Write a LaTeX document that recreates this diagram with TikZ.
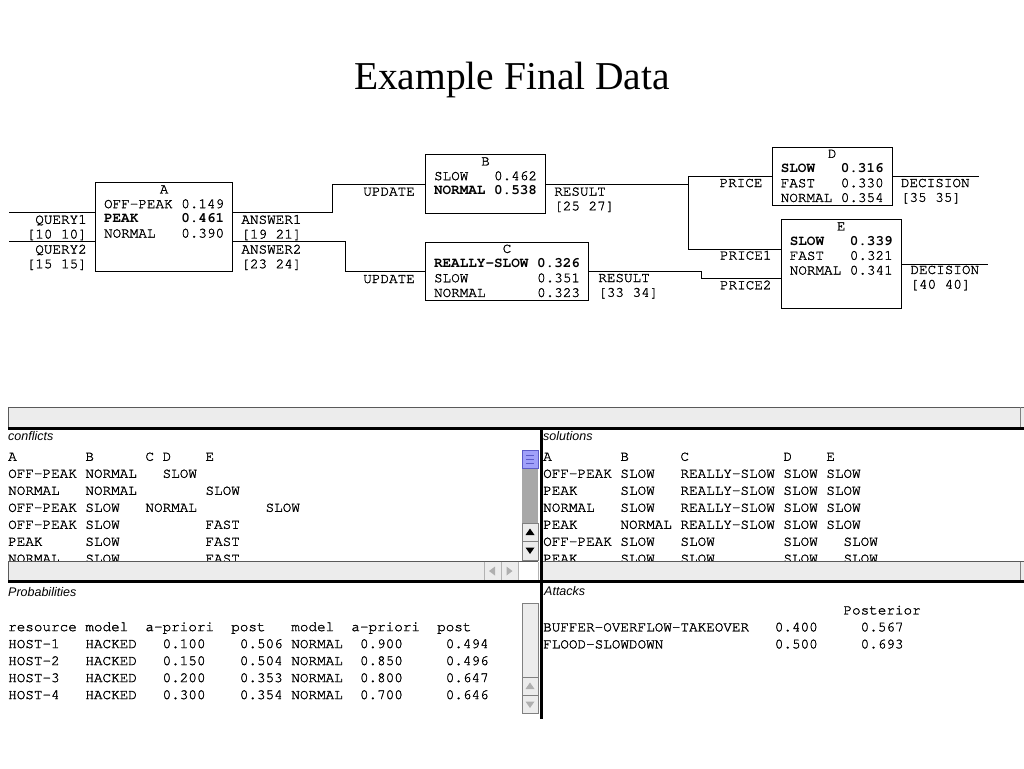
\documentclass[tikz,border=0pt]{standalone}
\usepackage{fontspec}
\setmainfont{Liberation Serif}
\setsansfont{Liberation Sans}
\newfontfamily\cursorfont[UprightFeatures={FakeBold=1.4}]{TeX Gyre Cursor}
\usepackage{tikz}
\usetikzlibrary{positioning,calc}

\newlength\chw
\setlength\chw{8.58pt}
\newcommand\skipch[1]{\hspace*{#1\chw}}
\newcommand\boxfont{\cursorfont\fontsize{14.3}{14.7}\selectfont}
\newcommand\listfont{\cursorfont\fontsize{14.3}{17}\selectfont}
\newcommand\tagfont{\sffamily\itshape\fontsize{12.5}{14}\selectfont}

\definecolor{panelgray}{RGB}{236,236,236}
\definecolor{framegray}{RGB}{90,90,90}
\definecolor{trackgray}{RGB}{168,168,168}
\definecolor{thumbblue}{RGB}{160,160,250}
\definecolor{thumbedge}{RGB}{90,90,200}
\definecolor{dimarrow}{RGB}{175,175,175}

\begin{document}
\begin{tikzpicture}[
  x=1pt, y=-1pt,
  unit/.style={draw, line width=1.1pt, anchor=north west, inner xsep=8.5pt, inner ysep=0pt, font=\boxfont, text height=10.6pt, text depth=48pt},
  tall/.style={unit, text depth=77.6pt},
  port/.style={font=\boxfont, inner sep=0pt},
  wire/.style={line width=0.9pt},
  listing/.style={font=\listfont, inner sep=0pt, anchor=base west},
  tag/.style={font=\tagfont, inner sep=0pt, anchor=base west},
  heavy/.style={line width=3pt},
  button/.style={fill=panelgray, draw=gray, line width=0.6pt}
]
\useasboundingbox (0,0) rectangle (1024,768);

\node[font=\fontsize{39.5}{45}\selectfont, anchor=base] (title) at (512,89) {Example Final Data};

% network nodes
\node[tall] (A) at (95,182.3) {\begin{tabular}[t]{@{}l@{\hspace{\chw}}r@{}}\multicolumn{2}{c}{A}\\ OFF-PEAK & 0.149\\ \textbf{PEAK} & \textbf{0.461}\\ NORMAL & 0.390\end{tabular}};
\node[unit] (B) at (425,154.3) {\begin{tabular}[t]{@{}l@{\hspace{\chw}}r@{}}\multicolumn{2}{c}{B}\\ SLOW & 0.462\\ \textbf{NORMAL} & \textbf{0.538}\end{tabular}};
\node[unit] (C) at (425,241.7) {\begin{tabular}[t]{@{}l@{\hspace{\chw}}r@{}}\multicolumn{2}{c}{C}\\ \textbf{REALLY-SLOW} & \textbf{0.326}\\ SLOW & 0.351\\ NORMAL & 0.323\end{tabular}};
\node[unit] (D) at (771.7,146.7) {\begin{tabular}[t]{@{}l@{\hspace{\chw}}r@{}}\multicolumn{2}{c}{D}\\ \textbf{SLOW} & \textbf{0.316}\\ FAST & 0.330\\ NORMAL & 0.354\end{tabular}};
\node[tall] (E) at (780.7,219.3) {\begin{tabular}[t]{@{}l@{\hspace{\chw}}r@{}}\multicolumn{2}{c}{E}\\ \textbf{SLOW} & \textbf{0.339}\\ FAST & 0.321\\ NORMAL & 0.341\end{tabular}};

% ports on the two-input boxes
\coordinate (A-in1) at ($(A.north west)!1/3!(A.south west)$);
\coordinate (A-in2) at ($(A.north west)!2/3!(A.south west)$);
\coordinate (A-out1) at ($(A.north east)!1/3!(A.south east)$);
\coordinate (A-out2) at ($(A.north east)!2/3!(A.south east)$);
\coordinate (E-in1) at ($(E.north west)!1/3!(E.south west)$);
\coordinate (E-in2) at ($(E.north west)!2/3!(E.south west)$);
\coordinate (feed) at (9,0);

% wires
\draw[wire] (feed |- A-in1) -- (A-in1);
\draw[wire] (feed |- A-in2) -- (A-in2);
\draw[wire] (A-out1) -- ++(99.5,0) |- (B.west);
\draw[wire] (A-out2) -- ++(112,0) |- (C.west);
\draw[wire] (B.east) -- ++(142.7,0) coordinate (fork);
\draw[wire] (D.west) -| (fork) |- (E-in1);
\draw[wire] (C.east) -- ++(112.3,0) |- (E-in2);
\draw[wire] (D.east) -- ++(86,0);
\draw[wire] (E.east) -- ++(86,0);

% port labels
\node[port, anchor=base east] (query1) at ($(A-in1)+(-8,11.7)$) {\begin{tabular}[t]{@{}r@{}}QUERY1\\{[10 10]}\end{tabular}};
\node[port, anchor=base east] (query2) at ($(A-in2)+(-8,11.7)$) {\begin{tabular}[t]{@{}r@{}}QUERY2\\{[15 15]}\end{tabular}};
\node[port, anchor=base west] (answer1) at ($(A-out1)+(8,11.7)$) {\begin{tabular}[t]{@{}l@{}}ANSWER1\\{[19 21]}\end{tabular}};
\node[port, anchor=base west] (answer2) at ($(A-out2)+(8,11.7)$) {\begin{tabular}[t]{@{}l@{}}ANSWER2\\{[23 24]}\end{tabular}};
\node[port, anchor=base east] (updateB) at ($(B.west)+(-10,11.5)$) {UPDATE};
\node[port, anchor=base east] (updateC) at ($(C.west)+(-10,11.5)$) {UPDATE};
\node[port, anchor=base west] (resultB) at ($(B.east)+(8,11.5)$) {\begin{tabular}[t]{@{}l@{}}RESULT\\{[25 27]}\end{tabular}};
\node[port, anchor=base west] (resultC) at ($(C.east)+(9,10.5)$) {\begin{tabular}[t]{@{}l@{}}RESULT\\{[33 34]}\end{tabular}};
\node[port, anchor=base east] (price) at ($(D.west)+(-9,10.5)$) {PRICE};
\node[port, anchor=base east] (price1) at ($(E-in1)+(-9,10.5)$) {PRICE1};
\node[port, anchor=base east] (price2) at ($(E-in2)+(-9,10.5)$) {PRICE2};
\node[port, anchor=base west] (decisionD) at ($(D.east)+(8,10.5)$) {\begin{tabular}[t]{@{}l@{}}DECISION\\{[35 35]}\end{tabular}};
\node[port, anchor=base west] (decisionE) at ($(E.east)+(8.5,10)$) {\begin{tabular}[t]{@{}l@{}}DECISION\\{[40 40]}\end{tabular}};

% top strip of the browser
\fill[panelgray] (8,407.3) rectangle (1024,428);
\draw[framegray, line width=0.8pt] (8,428) |- (1024,407.3);
\draw[gray, line width=0.8pt] (1020,407.3) -- (1020,428);

% panel texts
\node[tag] (conflicts-tag) at (8,440) {conflicts};
\node[tag] (solutions-tag) at (543,440) {solutions};
\node[tag] (prob-tag) at (8,596) {Probabilities};
\node[tag] (attacks-tag) at (544,595) {Attacks};

\node[listing] (conflicts) at (8,460.8) {\begin{tabular}[t]{@{}l@{}}
A\skipch{8}B\skipch{6}C D\skipch{4}E\\
OFF-PEAK NORMAL\skipch{3}SLOW\\
NORMAL\skipch{3}NORMAL\skipch{8}SLOW\\
OFF-PEAK SLOW\skipch{3}NORMAL\skipch{8}SLOW\\
OFF-PEAK SLOW\skipch{10}FAST\\
PEAK\skipch{5}SLOW\skipch{10}FAST\\
NORMAL\skipch{3}SLOW\skipch{10}FAST
\end{tabular}};
\node[listing] (solutions) at (543,460.8) {\begin{tabular}[t]{@{}l@{}}
A\skipch{8}B\skipch{6}C\skipch{11}D\skipch{4}E\\
OFF-PEAK SLOW\skipch{3}REALLY-SLOW SLOW SLOW\\
PEAK\skipch{5}SLOW\skipch{3}REALLY-SLOW SLOW SLOW\\
NORMAL\skipch{3}SLOW\skipch{3}REALLY-SLOW SLOW SLOW\\
PEAK\skipch{5}NORMAL REALLY-SLOW SLOW SLOW\\
OFF-PEAK SLOW\skipch{3}SLOW\skipch{8}SLOW\skipch{3}SLOW\\
PEAK\skipch{5}SLOW\skipch{3}SLOW\skipch{8}SLOW\skipch{3}SLOW
\end{tabular}};
\node[listing] (probabilities) at (8,631.1) {\begin{tabular}[t]{@{}l@{}}
resource model\skipch{2}a-priori\skipch{2}post\skipch{3}model\skipch{2}a-priori\skipch{2}post\\
HOST-1\skipch{3}HACKED\skipch{3}0.100\skipch{4}0.506 NORMAL\skipch{2}0.900\skipch{5}0.494\\
HOST-2\skipch{3}HACKED\skipch{3}0.150\skipch{4}0.504 NORMAL\skipch{2}0.850\skipch{5}0.496\\
HOST-3\skipch{3}HACKED\skipch{3}0.200\skipch{4}0.353 NORMAL\skipch{2}0.800\skipch{5}0.647\\
HOST-4\skipch{3}HACKED\skipch{3}0.300\skipch{4}0.354 NORMAL\skipch{2}0.700\skipch{5}0.646
\end{tabular}};
\node[listing] (attacks) at (543,614.4) {\begin{tabular}[t]{@{}l@{}}
\skipch{35}Posterior\\
BUFFER-OVERFLOW-TAKEOVER\skipch{3}0.400\skipch{5}0.567\\
FLOOD-SLOWDOWN\skipch{13}0.500\skipch{5}0.693
\end{tabular}};

% conflicts scroll bar
\fill[trackgray] (522,450) rectangle (538,523);
\filldraw[fill=thumbblue, draw=thumbedge, line width=0.8pt] (522,450) rectangle (538,468);
\foreach \ty in {455,459,463}
  \draw[thumbedge, line width=0.8pt] (526,\ty) -- (534,\ty);
\filldraw[button] (522,523) rectangle (538,541);
\filldraw[button] (522,541) rectangle (538,560);
\fill (530,528.5) -- (534.5,535) -- (525.5,535) -- cycle;
\fill (530,554) -- (534.5,547.5) -- (525.5,547.5) -- cycle;

% bottom strips
\fill[panelgray] (8,561.7) rectangle (519,581);
\fill[white] (519,561.7) rectangle (538,581);
\draw[framegray, line width=0.8pt] (8,581) |- (538,561.7);
\draw[gray!60, line width=0.6pt] (484,561.7) -- (484,580) (501,561.7) -- (501,580) (518.5,561.7) -- (518.5,580) (538,561.7) -- (538,580);
\fill[dimarrow] (489,571) -- (495,566.5) -- (495,575.5) -- cycle;
\fill[dimarrow] (512.5,571) -- (506.5,566.5) -- (506.5,575.5) -- cycle;
\fill[panelgray] (543,561.7) rectangle (1024,581);
\draw[framegray, line width=0.8pt] (543,561.7) -- (1024,561.7);
\draw[gray, line width=0.8pt] (1020,561.7) -- (1020,581);

% probabilities scroll bar
\filldraw[button] (522,603) rectangle (538,713);
\draw[gray, line width=0.6pt] (522,677) -- (538,677) (522,695) -- (538,695);
\fill[dimarrow] (530,682.5) -- (534.5,689) -- (525.5,689) -- cycle;
\fill[dimarrow] (530,708) -- (534.5,701.5) -- (525.5,701.5) -- cycle;

% heavy frame lines
\draw[heavy] (8,428.5) -- (1024,428.5);
\draw[heavy] (8,581.8) -- (1024,581.8);
\draw[heavy] (541.3,427) -- (541.3,719);
\end{tikzpicture}
\end{document}
